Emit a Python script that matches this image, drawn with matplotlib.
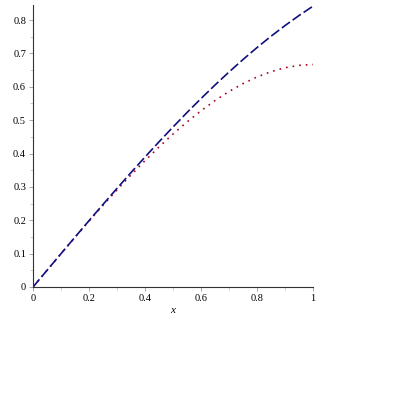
import matplotlib
matplotlib.use("Agg")
import matplotlib.pyplot as plt
from matplotlib.ticker import MultipleLocator

# values
x_vals = [0, 0.05, 0.1, 0.15, 0.2, 0.25, 0.3, 0.35, 0.4, 0.45, 0.5,
          0.55, 0.6, 0.65, 0.7, 0.75, 0.8, 0.85, 0.9, 0.95, 1.0]
blue_vals = [0, 0.050, 0.0998, 0.1494, 0.1987, 0.2474, 0.2955, 0.3429, 0.3894, 0.4350, 0.4794,
             0.5227, 0.5646, 0.6052, 0.6442, 0.6816, 0.7174, 0.7513, 0.7833, 0.8134, 0.8415]
red_vals = [0, 0.050, 0.0997, 0.1489, 0.1973, 0.2448, 0.2910, 0.3357, 0.3787, 0.4196, 0.4583,
            0.4945, 0.5280, 0.5585, 0.5857, 0.6094, 0.6293, 0.6453, 0.6570, 0.6642, 0.6667]
x_ticks = [0, 0.2, 0.4, 0.6, 0.8, 1]
x_tick_labels = ["0", "0.2", "0.4", "0.6", "0.8", "1"]
y_ticks = [0, 0.1, 0.2, 0.3, 0.4, 0.5, 0.6, 0.7, 0.8]
y_tick_labels = ["0", "0.1", "0.2", "0.3", "0.4", "0.5", "0.6", "0.7", "0.8"]

fig = plt.figure(figsize=(3.95, 3.95), dpi=100)
ax = fig.add_axes([33 / 395, 1 - 287 / 395, 280 / 395, 282 / 395])

ax.plot(x_vals, red_vals, color="#b00020", linestyle=(0, (1, 3)), linewidth=1.2)
ax.plot(x_vals, blue_vals, color="#101080", linestyle=(0, (6, 2)), linewidth=1.2)

ax.set_xlim(0, 1)
ax.set_ylim(0, 0.845)
ax.set_xticks(x_ticks)
ax.set_xticklabels(x_tick_labels)
ax.set_yticks(y_ticks)
ax.set_yticklabels(y_tick_labels)
ax.xaxis.set_minor_locator(MultipleLocator(0.1))
ax.yaxis.set_minor_locator(MultipleLocator(0.05))

for s in ["top", "right"]:
    ax.spines[s].set_visible(False)
for s in ["left", "bottom"]:
    ax.spines[s].set_color("#333333")
    ax.spines[s].set_linewidth(0.8)

ax.tick_params(which="major", length=3, width=0.6, color="#999999",
               labelsize=7.5, pad=2)
ax.tick_params(which="minor", length=2, width=0.5, color="#bbbbbb")
for lbl in ax.get_xticklabels() + ax.get_yticklabels():
    lbl.set_family("Liberation Serif")

ax.set_xlabel("x", fontstyle="italic", family="Liberation Serif", fontsize=8, labelpad=2)

fig.savefig("out.png", dpi=100)
